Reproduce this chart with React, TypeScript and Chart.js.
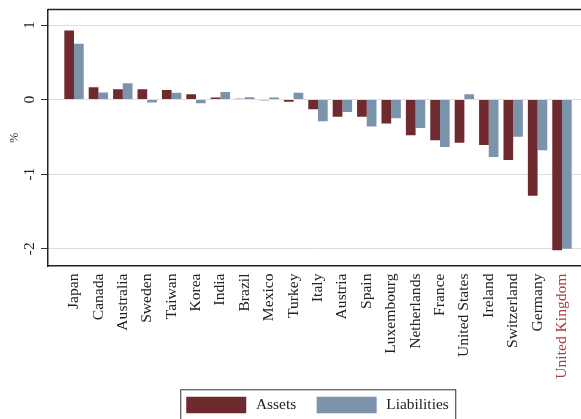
import React, { useEffect, useRef } from "react";
import { Chart, registerables } from "chart.js";

Chart.register(...registerables);

const countries = [
  "Japan", "Canada", "Australia", "Sweden", "Taiwan", "Korea", "India", "Brazil",
  "Mexico", "Turkey", "Italy", "Austria", "Spain", "Luxembourg", "Netherlands",
  "France", "United States", "Ireland", "Switzerland", "Germany", "United Kingdom",
];
const assets = [
  0.925, 0.166, 0.14, 0.14, 0.13, 0.072, 0.027, 0.01, -0.01, -0.03, -0.13,
  -0.23, -0.23, -0.32, -0.48, -0.545, -0.58, -0.61, -0.81, -1.29, -2.02,
];
const liabilities = [
  0.75, 0.094, 0.22, -0.04, 0.09, -0.05, 0.1, 0.032, 0.027, 0.09, -0.29,
  -0.165, -0.36, -0.25, -0.38, -0.635, 0.072, -0.77, -0.5, -0.68, -2.0,
];
const yTicks = [-2, -1, 0, 1];
const highlighted = "United Kingdom";

const FONT = "'Liberation Serif', 'Times New Roman', serif";
const LEGEND_SHIFT_X = 26;
const LEGEND_SHIFT_Y = -2.8;
const SWATCH_INSET = 2;

const framePlugin = {
  id: "frame",
  afterLayout(chart: any) {
    const lg = chart.legend;
    if (lg) {
      lg.left += LEGEND_SHIFT_X;
      lg.right += LEGEND_SHIFT_X;
      lg.top += LEGEND_SHIFT_Y;
      lg.bottom += LEGEND_SHIFT_Y;
    }
  },
  afterDraw(chart: any) {
    const { ctx, chartArea } = chart;
    ctx.save();
    ctx.strokeStyle = "#222";
    ctx.lineWidth = 1.5;
    ctx.beginPath();
    ctx.moveTo(chartArea.left, chartArea.top);
    ctx.lineTo(chartArea.right, chartArea.top);
    ctx.stroke();
    const lg = chart.legend;
    if (lg && lg.lineWidths) {
      const pad = lg.options.labels.padding;
      const start = (lg.left + pad + lg.right - lg.lineWidths[0]) / 2;
      const end = start + lg.lineWidths[0] - pad;
      const top = lg.top + pad + SWATCH_INSET - 7.4;
      ctx.lineWidth = 1;
      ctx.strokeStyle = "#333";
      ctx.strokeRect(start + SWATCH_INSET - 6 + 0.5, top + 0.5, end - start + 10.5, 60);
    }
    ctx.restore();
  },
};

export default function App() {
  const ref = useRef<HTMLCanvasElement | null>(null);
  useEffect(() => {
    if (!ref.current) return;
    const chart = new Chart(ref.current, {
      type: "bar",
      data: {
        datasets: [
          {
            label: "Assets",
            data: assets.map((v, i) => ({ x: i, y: v })),
            backgroundColor: "#6e2a2f",
            borderWidth: 0,
          },
          {
            label: "Liabilities",
            data: liabilities.map((v, i) => ({ x: i, y: v })),
            backgroundColor: "#7b93ab",
            borderWidth: 0,
          },
        ],
      },
      options: {
        animation: false,
        responsive: false,
        events: [],
        layout: { padding: { top: 9.5, left: 0, right: 0, bottom: 0 } },
        datasets: { bar: { categoryPercentage: 0.795, barPercentage: 1 } },
        plugins: {
          tooltip: { enabled: false },
          legend: {
            position: "bottom",
            maxHeight: 40,
            labels: {
              boxWidth: 64,
              boxHeight: 20.6,
              padding: 18.5,
              color: "#222",
              font: { family: FONT, size: 15.4 },
              generateLabels: (chart: any) =>
                chart.data.datasets.map((ds: any, i: number) => ({
                  text: ds.label,
                  fillStyle: ds.backgroundColor,
                  strokeStyle: "#ffffff",
                  lineWidth: SWATCH_INSET * 2,
                  fontColor: "#222",
                  hidden: false,
                  datasetIndex: i,
                })),
            },
          },
        },
        scales: {
          x: {
            type: "linear",
            min: -1.066,
            max: 20.78,
            offset: false,
            afterBuildTicks: (s: any) => {
              s.ticks = countries.map((_, i) => ({ value: i }));
            },
            afterFit: (s: any) => {
              s.height = 113;
              s.paddingLeft = 0;
              s.paddingRight = 0;
            },
            grid: { display: false, drawTicks: false },
            border: { display: true, color: "#222", width: 1.5 },
            ticks: {
              autoSkip: false,
              minRotation: 90,
              maxRotation: 90,
              padding: 7.5,
              font: { family: FONT, size: 15.6 },
              color: (c: any) =>
                countries[c.tick?.value] === highlighted ? "#a8403f" : "#222",
              callback: (v: any) => countries[v] ?? "",
            },
          },
          y: {
            min: -2.232,
            max: 1.208,
            afterBuildTicks: (s: any) => {
              s.ticks = yTicks.map((v) => ({ value: v }));
            },
            afterFit: (s: any) => {
              s.width = 48;
              s.paddingTop = 0;
              s.paddingBottom = 0;
            },
            grid: {
              color: "#dedede",
              lineWidth: 1,
              tickColor: "#333",
              tickLength: 7,
            },
            border: { display: true, color: "#222", width: 1.5 },
            title: {
              display: true,
              text: "%",
              color: "#222",
              font: { family: FONT, size: 12 },
              padding: { top: 7.5, bottom: 0 },
            },
            ticks: {
              minRotation: 90,
              maxRotation: 90,
              crossAlign: "center",
              padding: 5,
              color: "#222",
              font: { family: FONT, size: 15.5 },
              callback: (v: any) => String(v),
            },
          },
        },
      },
      plugins: [framePlugin],
    } as any);
    return () => chart.destroy();
  }, []);
  return (
    <div
      style={{
        position: "fixed",
        left: 0,
        top: 0,
        width: 581,
        height: 419,
        overflow: "hidden",
        background: "#fff",
      }}
    >
      <canvas ref={ref} width={581} height={419} style={{ width: 581, height: 419 }} />
    </div>
  );
}
